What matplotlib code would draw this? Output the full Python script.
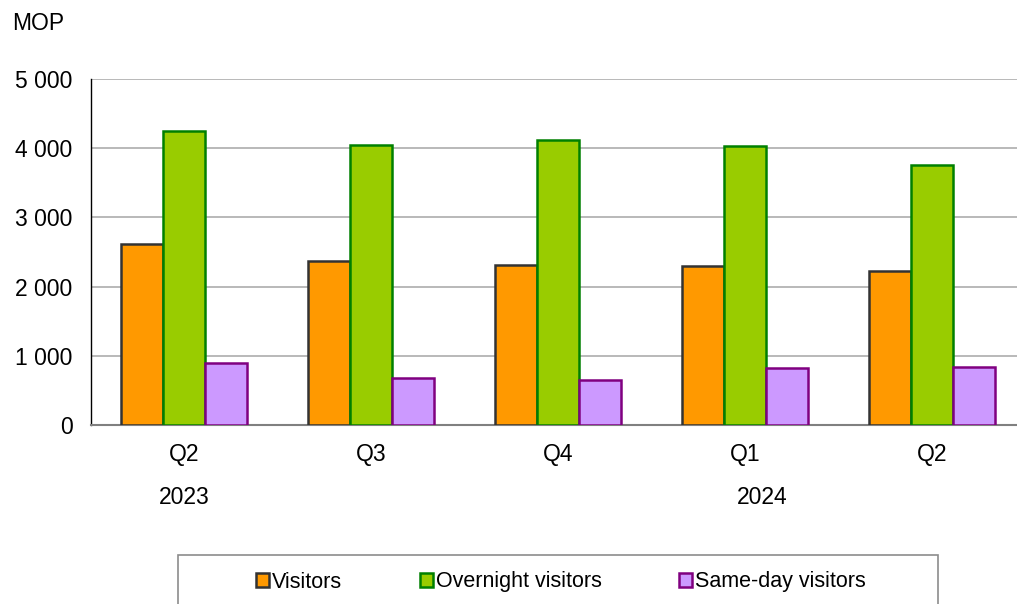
import numpy as np
import matplotlib
matplotlib.use("Agg")
import matplotlib.pyplot as plt
from matplotlib.patches import Rectangle
import matplotlib.transforms as mtransforms

plt.rcParams['font.family'] = ['Liberation Sans', 'DejaVu Sans']

quarters = ['Q2', 'Q3', 'Q4', 'Q1', 'Q2']
years = ['2023', '2024']
year_pos = [0.0, 3.09]
visitors = [2610, 2370, 2315, 2295, 2225]
overnight = [4255, 4045, 4115, 4035, 3755]
sameday = [895, 680, 655, 825, 840]

series = [
    ('Visitors', visitors, '#ff9900', '#333333'),
    ('Overnight visitors', overnight, '#99cc00', '#008000'),
    ('Same-day visitors', sameday, '#cc99ff', '#800080'),
]

fs = 16.5

fig = plt.figure(figsize=(10.17, 6.04), dpi=100)
# axes in pixel terms: left 90, right ~1025, bottom 425, top 79
ax = fig.add_axes([90.5/1017, (604-425)/604, 935/1017, (425-79)/604])

x = np.arange(len(quarters))
w = 0.225
for i, (name, vals, fc, ec) in enumerate(series):
    ax.bar(x + (i-1)*w, vals, w, color=fc, edgecolor=ec, linewidth=1.8, label=name, zorder=3)

ax.set_xlim(-0.5, 4.5)
ax.set_ylim(0, 5000)
ax.set_yticks(range(0, 5001, 1000))
ax.set_yticklabels(['0', '1 000', '2 000', '3 000', '4 000', '5 000'])
ax.set_xticks(x)
ax.set_xticklabels(quarters)
ax.tick_params(axis='both', labelsize=fs, length=0, colors='black')
ax.tick_params(axis='x', pad=13)
ax.tick_params(axis='y', pad=13)
ax.grid(axis='y', color='#a6a6a6', linewidth=1.1, zorder=0)
ax.set_axisbelow(True)
for s in ['top', 'right']:
    ax.spines[s].set_visible(False)
ax.spines['left'].set_color('black')
ax.spines['left'].set_linewidth(1)
ax.spines['bottom'].set_color('#808080')
ax.spines['bottom'].set_linewidth(1.5)

trans = mtransforms.blended_transform_factory(ax.transData, fig.transFigure)
for yr, xp in zip(years, year_pos):
    fig.text(xp, (604-497)/604, yr, transform=trans, ha='center', va='center', fontsize=fs)

fig.text(38/1017, (604-24)/604, 'MOP', ha='center', va='center', fontsize=fs)

# legend box (runs off bottom edge)
fig.patches.append(Rectangle((178/1017, -0.05), (938-178)/1017, 0.05 + 49/604,
                             transform=fig.transFigure, facecolor='white',
                             edgecolor='#8c8c8c', linewidth=1.2))
handles, labels = ax.get_legend_handles_labels()
fig.legend(handles, labels, loc='center', bbox_to_anchor=(561/1017, 22/604), ncol=3,
           frameon=False, fontsize=15.5, handlelength=0.6, handleheight=0.6,
           handletextpad=0.15, columnspacing=3.6)

fig.savefig('out.png', dpi=100)
